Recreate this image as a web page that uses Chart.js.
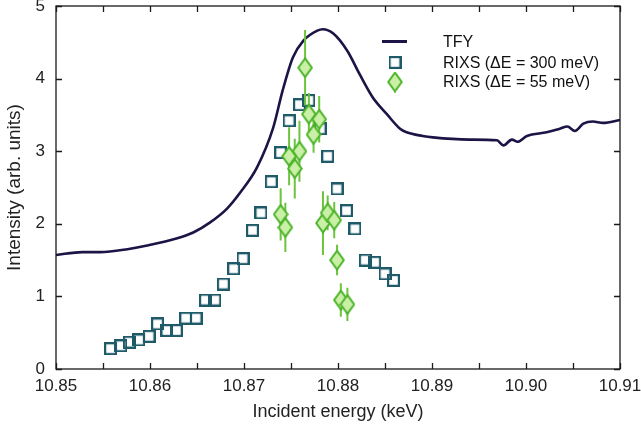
<!DOCTYPE html>
<html>
<head>
<meta charset="utf-8">
<script src="https://cdn.jsdelivr.net/npm/chart.js@4.4.1/dist/chart.umd.min.js"></script>
<style>
    html, body { margin: 0; padding: 0; background: #fff; }
    #wrap { width: 641px; height: 432px; position: relative; }
</style>
</head>
<body>
<div id="wrap"><canvas id="rixsChart" width="641" height="432"></canvas></div>
<script>
// TFY curve (keV, arb. units)
const tfyEnergy = [10.8500, 10.8528, 10.8547, 10.8576, 10.8597, 10.8629, 10.8646, 10.8664, 10.8682, 10.8696,
    10.8714, 10.8731, 10.8741, 10.8752, 10.8763, 10.8778, 10.8784, 10.8795, 10.8810, 10.8823,
    10.8837, 10.8852, 10.8866, 10.8873, 10.8890, 10.8901, 10.8940, 10.8969, 10.8976, 10.8985,
    10.8991, 10.9001, 10.9022, 10.9036, 10.9044, 10.9052, 10.9061, 10.9071, 10.9082, 10.9100];
const tfyIntensity = [1.57, 1.61, 1.61, 1.65, 1.70, 1.80, 1.88, 2.02, 2.21, 2.43,
    2.78, 3.32, 3.83, 4.29, 4.52, 4.66, 4.68, 4.62, 4.38, 4.06,
    3.74, 3.51, 3.31, 3.26, 3.21, 3.19, 3.16, 3.15, 3.08, 3.16,
    3.13, 3.21, 3.26, 3.31, 3.34, 3.28, 3.38, 3.41, 3.39, 3.43];

// RIXS, dE = 300 meV
const rixs300Energy = [10.8558, 10.8569, 10.8578, 10.8588, 10.8599, 10.8608, 10.8618, 10.8628, 10.8638, 10.8649,
    10.8659, 10.8669, 10.8678, 10.8689, 10.8699, 10.8709, 10.8718, 10.8729, 10.8739, 10.8748,
    10.8759, 10.8769, 10.8781, 10.8789, 10.8799, 10.8809, 10.8818, 10.8829, 10.8839, 10.8850, 10.8859];
const rixs300Intensity = [0.28, 0.32, 0.37, 0.40, 0.45, 0.62, 0.53, 0.53, 0.70, 0.70,
    0.95, 0.95, 1.17, 1.38, 1.52, 1.91, 2.15, 2.58, 2.98, 3.42,
    3.64, 3.70, 3.31, 2.93, 2.48, 2.18, 1.93, 1.50, 1.47, 1.31, 1.22];

// RIXS, dE = 55 meV, with error bars
const rixs55Energy = [10.8765, 10.8769, 10.8780, 10.8774, 10.8759, 10.8748, 10.8754, 10.8739,
    10.8744, 10.8784, 10.8789, 10.8796, 10.8799, 10.8803, 10.8810];
const rixs55Intensity = [4.15, 3.51, 3.44, 3.23, 3.00, 2.93, 2.76, 2.13,
    1.95, 2.01, 2.15, 2.05, 1.50, 0.95, 0.89];
const rixs55Error = [0.52, 0.29, 0.32, 0.25, 0.42, 0.40, 0.41, 0.36,
    0.34, 0.44, 0.24, 0.25, 0.21, 0.23, 0.23];

const legendLabels = ['TFY', 'RIXS (\u0394E = 300 meV)', 'RIXS (\u0394E = 55 meV)'];

const FONT = '"Liberation Sans", Arial, Helvetica, sans-serif';
const TFY_COLOR = '#1b1446';
const SQUARE_COLOR = '#1e5a68';
const DIAMOND_FILL = '#c9f0a6';
const DIAMOND_LINE = '#4db42a';
const ERR_COLOR = '#6cc43c';

function toPoints(xs, ys) {
    return xs.map((x, i) => ({ x: x, y: ys[i] }));
}

function makeSquare() {
    const c = document.createElement('canvas');
    c.width = 13; c.height = 13;
    const g = c.getContext('2d');
    g.strokeStyle = SQUARE_COLOR;
    g.lineWidth = 2.2;
    g.strokeRect(1.1, 1.1, 10.8, 10.8);
    return c;
}

function makeDiamond() {
    const c = document.createElement('canvas');
    c.width = 16; c.height = 21;
    const g = c.getContext('2d');
    g.beginPath();
    g.moveTo(8, 1.2);
    g.lineTo(14.8, 10.5);
    g.lineTo(8, 19.8);
    g.lineTo(1.2, 10.5);
    g.closePath();
    g.fillStyle = DIAMOND_FILL;
    g.fill();
    g.strokeStyle = DIAMOND_LINE;
    g.lineWidth = 2;
    g.stroke();
    return c;
}

const squareImg = makeSquare();
const diamondImg = makeDiamond();

// frame + inward ticks on all four sides
const framePlugin = {
    id: 'frame',
    afterDraw(chart) {
        const { ctx, chartArea: a, scales } = chart;
        ctx.save();
        ctx.strokeStyle = '#1a1a1a';
        ctx.lineWidth = 1.3;
        ctx.strokeRect(a.left, a.top, a.right - a.left, a.bottom - a.top);
        const len = 6;
        ctx.beginPath();
        for (let k = 0; k <= 12; k++) {
            const v = 10.85 + k * 0.005;
            const px = Math.round(scales.x.getPixelForValue(v)) + 0.5;
            ctx.moveTo(px, a.bottom); ctx.lineTo(px, a.bottom - len);
            ctx.moveTo(px, a.top); ctx.lineTo(px, a.top + len);
        }
        for (let v = 0; v <= 5; v++) {
            const py = Math.round(scales.y.getPixelForValue(v)) + 0.5;
            ctx.moveTo(a.left, py); ctx.lineTo(a.left + len, py);
            ctx.moveTo(a.right, py); ctx.lineTo(a.right - len, py);
        }
        ctx.stroke();
        ctx.restore();
    }
};

// vertical error bars under the 55 meV diamonds
const errorBarPlugin = {
    id: 'errorBars',
    beforeDatasetDraw(chart, args) {
        if (args.index !== 2) return;
        const { ctx, scales } = chart;
        ctx.save();
        ctx.strokeStyle = ERR_COLOR;
        ctx.lineWidth = 2;
        ctx.beginPath();
        rixs55Energy.forEach((e, i) => {
            const px = scales.x.getPixelForValue(e);
            ctx.moveTo(px, scales.y.getPixelForValue(rixs55Intensity[i] + rixs55Error[i]));
            ctx.lineTo(px, scales.y.getPixelForValue(rixs55Intensity[i] - rixs55Error[i]));
        });
        ctx.stroke();
        ctx.restore();
    }
};

// legend inside the plot, top right
const legendPlugin = {
    id: 'insideLegend',
    afterDraw(chart) {
        const { ctx } = chart;
        const symX = 395, textX = 443;
        const rows = [41.5, 62.5, 82];
        ctx.save();
        ctx.strokeStyle = TFY_COLOR;
        ctx.lineWidth = 3;
        ctx.beginPath();
        ctx.moveTo(382, rows[0]); ctx.lineTo(407, rows[0]);
        ctx.stroke();
        ctx.drawImage(squareImg, symX - 6.5, rows[1] - 6.5);
        ctx.drawImage(diamondImg, symX - 8, rows[2] - 10.5);
        ctx.fillStyle = '#111';
        ctx.font = '16px ' + FONT;
        ctx.textBaseline = 'middle';
        ctx.textAlign = 'left';
        legendLabels.forEach((t, i) => ctx.fillText(t, textX, rows[i] + 1));
        ctx.restore();
    }
};

function createChart() {
    const ctx = document.getElementById('rixsChart');
    new Chart(ctx, {
        data: {
            datasets: [
                {
                    type: 'line',
                    label: legendLabels[0],
                    data: toPoints(tfyEnergy, tfyIntensity),
                    borderColor: TFY_COLOR,
                    borderWidth: 2.6,
                    pointRadius: 0,
                    cubicInterpolationMode: 'monotone',
                    order: 3
                },
                {
                    type: 'scatter',
                    label: legendLabels[1],
                    data: toPoints(rixs300Energy, rixs300Intensity),
                    pointStyle: squareImg,
                    order: 2
                },
                {
                    type: 'scatter',
                    label: legendLabels[2],
                    data: toPoints(rixs55Energy, rixs55Intensity),
                    pointStyle: diamondImg,
                    order: 1
                }
            ]
        },
        options: {
            responsive: false,
            animation: false,
            layout: { padding: { top: 6, right: 21, left: 0, bottom: 0 } },
            scales: {
                x: {
                    type: 'linear',
                    min: 10.85,
                    max: 10.91,
                    grid: { display: false, drawTicks: false },
                    border: { display: false },
                    ticks: {
                        stepSize: 0.01,
                        maxRotation: 0,
                        autoSkip: false,
                        padding: 7,
                        color: '#222',
                        font: { family: FONT, size: 17 },
                        callback: v => v.toFixed(2)
                    },
                    title: {
                        display: true,
                        text: 'Incident energy (keV)',
                        color: '#222',
                        font: { family: FONT, size: 18 },
                        padding: { top: 0, bottom: 9 }
                    },
                    afterFit(scale) {
                        scale.height = 63;
                        scale.paddingLeft = 0;
                        scale.paddingRight = 0;
                    }
                },
                y: {
                    min: 0,
                    max: 5,
                    grid: { display: false, drawTicks: false },
                    border: { display: false },
                    ticks: {
                        stepSize: 1,
                        padding: 11,
                        color: '#222',
                        font: { family: FONT, size: 17 }
                    },
                    title: {
                        display: true,
                        text: 'Intensity (arb. units)',
                        color: '#222',
                        font: { family: FONT, size: 19 },
                        padding: { top: 3, bottom: 4 }
                    },
                    afterFit(scale) {
                        scale.width = 56;
                        scale.paddingTop = 0;
                        scale.paddingBottom = 0;
                    }
                }
            },
            plugins: {
                legend: { display: false },
                tooltip: { enabled: false }
            }
        },
        plugins: [framePlugin, errorBarPlugin, legendPlugin]
    });
}

document.addEventListener('DOMContentLoaded', createChart);
</script>
</body>
</html>
